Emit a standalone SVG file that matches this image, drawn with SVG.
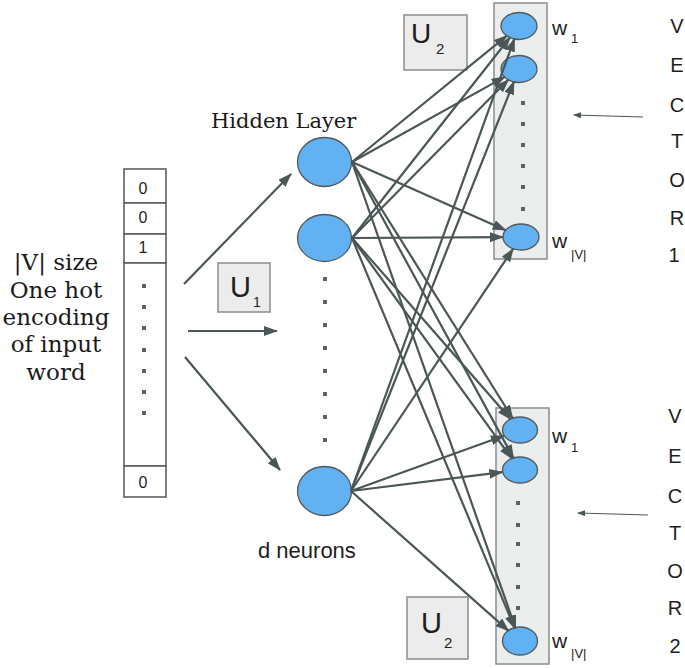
<svg xmlns="http://www.w3.org/2000/svg" width="685" height="668" viewBox="0 0 685 668">
<style>
.ln{stroke:#4b5656;stroke-width:2.2;fill:none}
.thin{stroke:#4b5656;stroke-width:1.2;fill:none}
.node{fill:#62b1f2;stroke:#505a5a;stroke-width:1.3}
.ubox{fill:#ececec;stroke:#8c8c8c;stroke-width:1.5}
.obox{fill:#eceeee;stroke:#8a8c8c;stroke-width:1.5}
.cell{fill:#ffffff;stroke:#5a6262;stroke-width:1.6}
.dot{fill:#5a6262}
.serif{font-family:"DejaVu Serif","Liberation Serif",serif;fill:#1a1a1a}
.sans{font-family:"Liberation Sans",Arial,sans-serif;fill:#1e1e1e}
</style>
<defs>
<marker id="ah" viewBox="0 0 14 10" refX="13" refY="5" markerWidth="14" markerHeight="10" markerUnits="userSpaceOnUse" orient="auto"><path d="M0,0 L14,5 L0,10 z" fill="#4b5656"/></marker>
<marker id="ahs" viewBox="0 0 8 6" refX="7" refY="3" markerWidth="8" markerHeight="6" markerUnits="userSpaceOnUse" orient="auto"><path d="M0,0 L8,3 L0,6 z" fill="#4b5656"/></marker>
</defs>

<g id="input-text">
<text class="serif" font-size="23" text-anchor="middle" x="56" y="270">|V| size</text>
<text class="serif" font-size="23" text-anchor="middle" x="56" y="298">One hot</text>
<text class="serif" font-size="23" text-anchor="middle" x="56" y="325">encoding</text>
<text class="serif" font-size="23" text-anchor="middle" x="56" y="352">of input</text>
<text class="serif" font-size="23" text-anchor="middle" x="56" y="380">word</text>
</g>

<g id="input-vector">
<rect class="cell" x="124" y="169" width="42" height="34"/>
<rect class="cell" x="124" y="203" width="42" height="31"/>
<rect class="cell" x="124" y="234" width="42" height="29"/>
<rect class="cell" x="124" y="263" width="42" height="203"/>
<rect class="cell" x="124" y="466" width="42" height="31"/>
<text class="sans" font-size="16" text-anchor="middle" x="143" y="194">0</text>
<text class="sans" font-size="16" text-anchor="middle" x="143" y="223">0</text>
<text class="sans" font-size="16" text-anchor="middle" x="143" y="253">1</text>
<text class="sans" font-size="16" text-anchor="middle" x="143" y="488">0</text>
<rect class="dot" x="142" y="284" width="4" height="4"/>
<rect class="dot" x="142" y="305" width="4" height="4"/>
<rect class="dot" x="142" y="326" width="4" height="4"/>
<rect class="dot" x="142" y="348" width="4" height="4"/>
<rect class="dot" x="142" y="369" width="4" height="4"/>
<rect class="dot" x="142" y="390" width="4" height="4"/>
<rect class="dot" x="142" y="411" width="4" height="4"/>
</g>

<g id="u1">
<rect class="ubox" x="218" y="263" width="52" height="49"/>
<text class="sans" font-size="29" x="230" y="297">U</text>
<text class="sans" font-size="14" x="253" y="307">1</text>
</g>

<g id="hidden-label">
<text class="serif" font-size="21" x="211" y="128">Hidden Layer</text>
<text class="sans" font-size="22" x="258" y="558">d neurons</text>
</g>

<g id="hidden1"><ellipse class="node" cx="324.5" cy="162" rx="27" ry="24.5"/></g>
<g id="hidden2"><ellipse class="node" cx="324.5" cy="238" rx="27" ry="23.5"/></g>
<g id="hidden3"><ellipse class="node" cx="324.5" cy="491" rx="27" ry="24.5"/></g>
<g id="hidden-dots">
<rect class="dot" x="323" y="277" width="4" height="4"/>
<rect class="dot" x="323" y="300" width="4" height="4"/>
<rect class="dot" x="323" y="323" width="4" height="4"/>
<rect class="dot" x="323" y="346" width="4" height="4"/>
<rect class="dot" x="323" y="369" width="4" height="4"/>
<rect class="dot" x="323" y="392" width="4" height="4"/>
<rect class="dot" x="323" y="415" width="4" height="4"/>
<rect class="dot" x="323" y="438" width="4" height="4"/>
</g>

<g id="u2-top">
<rect class="ubox" x="404" y="15" width="63" height="55"/>
<text class="sans" font-size="28" x="411" y="43">U</text>
<text class="sans" font-size="15" x="436" y="54">2</text>
</g>
<g id="u2-bottom">
<rect class="ubox" x="407" y="597" width="61" height="62"/>
<text class="sans" font-size="29" x="421" y="633">U</text>
<text class="sans" font-size="15" x="444" y="648">2</text>
</g>

<g id="output1">
<rect class="obox" x="494" y="3" width="53" height="256"/>
<ellipse class="node" cx="519" cy="26" rx="18" ry="13.5"/>
<ellipse class="node" cx="519" cy="69" rx="18" ry="13.5"/>
<ellipse class="node" cx="521" cy="237" rx="18" ry="13"/>
<rect class="dot" x="521" y="101" width="4" height="4"/>
<rect class="dot" x="521" y="122" width="4" height="4"/>
<rect class="dot" x="521" y="143" width="4" height="4"/>
<rect class="dot" x="521" y="164" width="4" height="4"/>
<rect class="dot" x="521" y="185" width="4" height="4"/>
<rect class="dot" x="521" y="207" width="4" height="4"/>
<text class="sans" font-size="21" x="552" y="35">w</text>
<text class="sans" font-size="13" x="571" y="43">1</text>
<text class="sans" font-size="21" x="552" y="248">w</text>
<text class="sans" font-size="13" x="571" y="259">|V|</text>
</g>

<g id="output2">
<rect class="obox" x="496" y="408" width="53" height="256"/>
<ellipse class="node" cx="520" cy="430" rx="17.5" ry="13"/>
<ellipse class="node" cx="520" cy="470" rx="17.5" ry="13"/>
<ellipse class="node" cx="520" cy="641" rx="17.5" ry="14"/>
<rect class="dot" x="516" y="501" width="4" height="4"/>
<rect class="dot" x="516" y="523" width="4" height="4"/>
<rect class="dot" x="516" y="542" width="4" height="4"/>
<rect class="dot" x="516" y="563" width="4" height="4"/>
<rect class="dot" x="516" y="585" width="4" height="4"/>
<rect class="dot" x="516" y="606" width="4" height="4"/>
<text class="sans" font-size="21" x="552" y="443">w</text>
<text class="sans" font-size="13" x="571" y="452">1</text>
<text class="sans" font-size="21" x="552" y="648">w</text>
<text class="sans" font-size="13" x="571" y="658">|V|</text>
</g>

<g id="vector1" class="sans" font-size="20" text-anchor="middle">
<text x="677" y="33">V</text>
<text x="677" y="72">E</text>
<text x="677" y="112">C</text>
<text x="677" y="148">T</text>
<text x="677" y="187">O</text>
<text x="677" y="225">R</text>
<text x="674" y="262">1</text>
</g>
<g id="vector2" class="sans" font-size="20" text-anchor="middle">
<text x="675" y="423">V</text>
<text x="675" y="463">E</text>
<text x="675" y="503">C</text>
<text x="675" y="540">T</text>
<text x="675" y="578">O</text>
<text x="675" y="615">R</text>
<text x="675" y="653">2</text>
</g>

<g id="connectors">
<line class="ln" x1="184" y1="284" x2="291" y2="174" marker-end="url(#ah)"/>
<line class="ln" x1="188" y1="331" x2="277" y2="331" marker-end="url(#ah)"/>
<line class="ln" x1="185" y1="357" x2="280" y2="470" marker-end="url(#ah)"/>
<line class="thin" x1="643" y1="117" x2="574" y2="115" marker-end="url(#ahs)"/>
<line class="thin" x1="648" y1="515" x2="578" y2="513" marker-end="url(#ahs)"/>

<line class="ln" x1="352" y1="162" x2="507" y2="35.7" marker-end="url(#ah)"/>
<line class="ln" x1="352" y1="162" x2="504.7" y2="76.9" marker-end="url(#ah)"/>
<line class="ln" x1="352" y1="162" x2="505.7" y2="230.2" marker-end="url(#ah)"/>
<line class="ln" x1="352" y1="162" x2="512.6" y2="418.2" marker-end="url(#ah)"/>
<line class="ln" x1="352" y1="162" x2="513.4" y2="457.9" marker-end="url(#ah)"/>
<line class="ln" x1="352" y1="162" x2="515.6" y2="628.4" marker-end="url(#ah)"/>

<line class="ln" x1="352" y1="238" x2="510.1" y2="37.3" marker-end="url(#ah)"/>
<line class="ln" x1="352" y1="238" x2="508.5" y2="79.6" marker-end="url(#ah)"/>
<line class="ln" x1="352" y1="238" x2="503" y2="237.1" marker-end="url(#ah)"/>
<line class="ln" x1="352" y1="238" x2="510.4" y2="419" marker-end="url(#ah)"/>
<line class="ln" x1="352" y1="238" x2="511.7" y2="458.5" marker-end="url(#ah)"/>
<line class="ln" x1="352" y1="238" x2="514.8" y2="628.5" marker-end="url(#ah)"/>

<line class="ln" x1="351" y1="491" x2="514.5" y2="38.6" marker-end="url(#ah)"/>
<line class="ln" x1="351" y1="491" x2="514" y2="81.5" marker-end="url(#ah)"/>
<line class="ln" x1="351" y1="491" x2="513.2" y2="248.7" marker-end="url(#ah)"/>
<line class="ln" x1="351" y1="491" x2="503.9" y2="435.8" marker-end="url(#ah)"/>
<line class="ln" x1="351" y1="491" x2="502.3" y2="472.2" marker-end="url(#ah)"/>
<line class="ln" x1="351" y1="491" x2="508.6" y2="630.9" marker-end="url(#ah)"/>
</g>
</svg>
